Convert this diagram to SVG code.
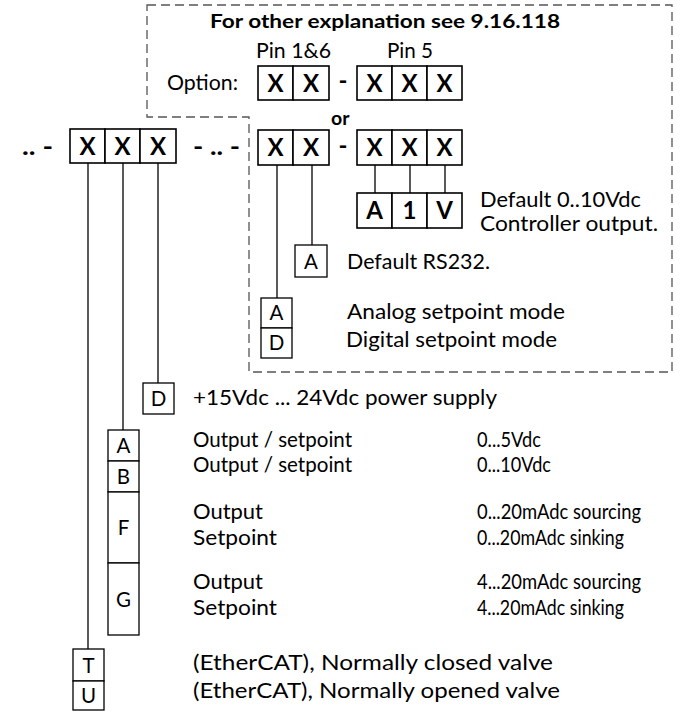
<svg xmlns="http://www.w3.org/2000/svg" width="680" height="711" viewBox="0 0 680 711">
<style>
.t{font-family:Lato,"Open Sans","Liberation Sans",sans-serif;font-size:20.5px;fill:#000}
.b{font-family:Lato,"Open Sans","Liberation Sans",sans-serif;font-weight:bold;fill:#000}
.x{font-size:24px;text-anchor:middle}
.c{text-anchor:middle}
.bx{fill:#fff;stroke:#000;stroke-width:1.6}
.sb{fill:#fff;stroke:#000;stroke-width:1.3}
.ln{stroke:#000;stroke-width:1.3;fill:none}
.dash{fill:none;stroke:#555;stroke-width:1.3;stroke-dasharray:9 5}
</style>
<path class="dash" d="M147,5 H672 V372 H249 V117 H147 Z"/>
<text class="b" x="210" y="28" font-size="19.5" textLength="350" lengthAdjust="spacingAndGlyphs">For other explanation see 9.16.118</text>
<text class="t" x="256" y="58" textLength="75" lengthAdjust="spacingAndGlyphs">Pin 1&amp;6</text>
<text class="t" x="387" y="58" textLength="46" lengthAdjust="spacingAndGlyphs">Pin 5</text>
<text class="t" x="167" y="90" textLength="71" lengthAdjust="spacingAndGlyphs">Option:</text>
<text class="b" x="331" y="125" font-size="19.5">or</text>
<g id="connectors">
<line class="ln" x1="88" y1="163" x2="88" y2="649"/>
<line class="ln" x1="123" y1="163" x2="123" y2="430"/>
<line class="ln" x1="158" y1="163" x2="158" y2="383"/>
<line class="ln" x1="277" y1="165" x2="277" y2="298"/>
<line class="ln" x1="312" y1="165" x2="312" y2="245"/>
<line class="ln" x1="375" y1="165" x2="375" y2="193"/>
<line class="ln" x1="410" y1="165" x2="410" y2="193"/>
<line class="ln" x1="445" y1="165" x2="445" y2="193"/>
</g>
<g id="opt-pair">
<rect class="bx" x="258" y="66" width="35" height="34"/><rect class="bx" x="293" y="66" width="36" height="34"/>
<text class="b x" x="275.5" y="92">X</text><text class="b x" x="311" y="92">X</text>
</g>
<text class="b c" x="343" y="89" font-size="24">-</text>
<g id="opt-triple">
<rect class="bx" x="357" y="66" width="35" height="34"/><rect class="bx" x="392" y="66" width="35" height="34"/><rect class="bx" x="427" y="66" width="35" height="34"/>
<text class="b x" x="374.5" y="92">X</text><text class="b x" x="409.5" y="92">X</text><text class="b x" x="444.5" y="92">X</text>
</g>
<text class="b" x="22" y="155" font-size="24" textLength="31" lengthAdjust="spacingAndGlyphs">.. -</text>
<g id="main">
<rect class="bx" x="70" y="129" width="35" height="34"/><rect class="bx" x="105" y="129" width="35" height="34"/><rect class="bx" x="140" y="129" width="36" height="34"/>
<text class="b x" x="87.5" y="155">X</text><text class="b x" x="122.5" y="155">X</text><text class="b x" x="158" y="155">X</text>
</g>
<text class="b" x="193" y="155" font-size="24" textLength="47" lengthAdjust="spacingAndGlyphs">- .. -</text>
<g id="pair">
<rect class="bx" x="258" y="130" width="35" height="35"/><rect class="bx" x="293" y="130" width="36" height="35"/>
<text class="b x" x="275.5" y="156">X</text><text class="b x" x="311" y="156">X</text>
</g>
<text class="b c" x="343" y="154" font-size="24">-</text>
<g id="triple">
<rect class="bx" x="357" y="130" width="35" height="35"/><rect class="bx" x="392" y="130" width="35" height="35"/><rect class="bx" x="427" y="130" width="35" height="35"/>
<text class="b x" x="374.5" y="156">X</text><text class="b x" x="409.5" y="156">X</text><text class="b x" x="444.5" y="156">X</text>
</g>
<g id="a1v">
<rect class="bx" x="357" y="193" width="35" height="35"/><rect class="bx" x="392" y="193" width="35" height="35"/><rect class="bx" x="427" y="193" width="35" height="35"/>
<text class="b x" x="374.5" y="219">A</text><text class="b x" x="409.5" y="219">1</text><text class="b x" x="444.5" y="219">V</text>
<text class="t" x="480" y="207" textLength="161" lengthAdjust="spacingAndGlyphs">Default 0..10Vdc</text>
<text class="t" x="480" y="231" textLength="178" lengthAdjust="spacingAndGlyphs">Controller output.</text>
</g>
<g id="rs232">
<rect class="sb" x="295" y="245" width="32" height="32"/>
<text class="t c" x="311" y="269">A</text>
<text class="t" x="347" y="269" textLength="143" lengthAdjust="spacingAndGlyphs">Default RS232.</text>
</g>
<g id="mode">
<rect class="sb" x="261" y="298" width="31" height="30"/><rect class="sb" x="261" y="328" width="31" height="30"/>
<text class="t c" x="276.5" y="320">A</text><text class="t c" x="276.5" y="350">D</text>
<text class="t" x="347" y="319" textLength="218" lengthAdjust="spacingAndGlyphs">Analog setpoint mode</text>
<text class="t" x="346" y="347" textLength="211" lengthAdjust="spacingAndGlyphs">Digital setpoint mode</text>
</g>
<g id="power">
<rect class="sb" x="143" y="383" width="31" height="31"/>
<text class="t c" x="158.5" y="406">D</text>
<text class="t" x="193" y="405" textLength="304" lengthAdjust="spacingAndGlyphs">+15Vdc ... 24Vdc power supply</text>
</g>
<g id="signal">
<rect class="sb" x="108" y="430" width="31" height="31"/><rect class="sb" x="108" y="461" width="31" height="31"/>
<rect class="sb" x="108" y="492" width="31" height="71"/><rect class="sb" x="108" y="563" width="31" height="72"/>
<text class="t c" x="123.5" y="453">A</text><text class="t c" x="123.5" y="484">B</text>
<text class="t c" x="123.5" y="535">F</text><text class="t c" x="123.5" y="607">G</text>
<text class="t" x="193" y="447" textLength="159" lengthAdjust="spacingAndGlyphs">Output / setpoint</text>
<text class="t" x="477" y="447" textLength="64" lengthAdjust="spacingAndGlyphs">0...5Vdc</text>
<text class="t" x="193" y="472" textLength="159" lengthAdjust="spacingAndGlyphs">Output / setpoint</text>
<text class="t" x="477" y="472" textLength="74" lengthAdjust="spacingAndGlyphs">0...10Vdc</text>
<text class="t" x="193" y="519" textLength="70" lengthAdjust="spacingAndGlyphs">Output</text>
<text class="t" x="477" y="519" textLength="164" lengthAdjust="spacingAndGlyphs">0...20mAdc sourcing</text>
<text class="t" x="193" y="545" textLength="84" lengthAdjust="spacingAndGlyphs">Setpoint</text>
<text class="t" x="477" y="545" textLength="147" lengthAdjust="spacingAndGlyphs">0...20mAdc sinking</text>
<text class="t" x="193" y="589" textLength="70" lengthAdjust="spacingAndGlyphs">Output</text>
<text class="t" x="477" y="589" textLength="164" lengthAdjust="spacingAndGlyphs">4...20mAdc sourcing</text>
<text class="t" x="193" y="615" textLength="84" lengthAdjust="spacingAndGlyphs">Setpoint</text>
<text class="t" x="477" y="615" textLength="147" lengthAdjust="spacingAndGlyphs">4...20mAdc sinking</text>
</g>
<g id="valve">
<rect class="sb" x="73" y="649" width="31" height="32"/><rect class="sb" x="73" y="681" width="31" height="29"/>
<text class="t c" x="88.5" y="673">T</text><text class="t c" x="88.5" y="703">U</text>
<text class="t" x="193" y="670" textLength="360" lengthAdjust="spacingAndGlyphs">(EtherCAT), Normally closed valve</text>
<text class="t" x="193" y="698" textLength="367" lengthAdjust="spacingAndGlyphs">(EtherCAT), Normally opened valve</text>
</g>
</svg>
